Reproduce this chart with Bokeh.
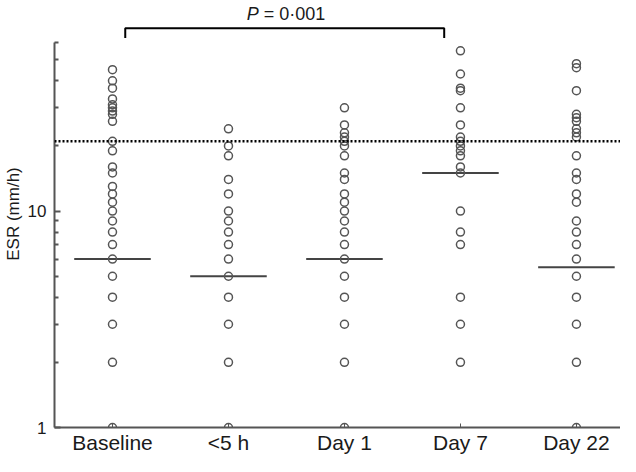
from bokeh.plotting import figure
from bokeh.models import Span, FixedTicker, Range1d, ColumnDataSource, Label, BasicTickFormatter
from bokeh.embed import file_html
from bokeh.resources import INLINE

# ---- data ----
categories = ["Baseline", "<5 h", "Day 1", "Day 7", "Day 22"]
baseline = [45, 40, 37, 33, 31, 30, 29, 28, 26, 21, 19, 16, 15, 13, 12, 11, 10, 9, 8, 7, 6, 5, 4, 3, 2, 1]
lt5h = [24, 20, 18, 14, 12, 10, 9, 8, 7, 6, 5, 4, 3, 2, 1]
day1 = [30, 25, 23, 22, 21, 20, 18, 15, 14, 12, 11, 10, 9, 8, 7, 6, 5, 4, 3, 2, 1]
day7 = [55, 43, 37, 36, 30, 25, 22, 21, 20, 19, 18, 16, 15, 10, 8, 7, 4, 3, 2]
day22 = [48, 46, 36, 28, 27, 26, 24, 23, 22, 18, 15, 14, 12, 11, 9, 8, 7, 6, 5, 4, 3, 2, 1]
medians = [6, 5, 6, 15, 5.5]
reference_line = 21
y_major_ticks = [1, 10]
y_minor_ticks = [2, 3, 4, 5, 6, 7, 8, 9, 20, 30, 40, 50, 60]
y_axis_top = 60
p_value_text = "= 0\u00b7001"

series = [baseline, lt5h, day1, day7, day22]

FONT = "Liberation Sans"
TEXT = "#1a1a1a"
GREY = "#555555"

xs, ys = [], []
for i, vals in enumerate(series):
    xs += [i + 1] * len(vals)
    ys += vals
src = ColumnDataSource(dict(x=xs, y=ys))

p = figure(width=620, height=456,
           x_range=Range1d(0.5, 5.38), y_range=Range1d(1, 94),
           y_axis_type="log", output_backend="svg", toolbar_location=None,
           min_border=0, min_border_left=0, min_border_right=0,
           min_border_top=0, min_border_bottom=0)
p.outline_line_color = None
p.grid.visible = False
p.background_fill_color = "white"

# y axis
ya = p.yaxis[0]
ya.ticker = FixedTicker(ticks=y_major_ticks, minor_ticks=y_minor_ticks)
ya.formatter = BasicTickFormatter()
ya.bounds = (1, y_axis_top)
ya.axis_line_color = GREY
ya.axis_line_width = 2
ya.major_tick_in = 6
ya.major_tick_out = 0
ya.minor_tick_in = 4
ya.minor_tick_out = 0
ya.major_tick_line_color = GREY
ya.minor_tick_line_color = GREY
ya.major_tick_line_width = 2
ya.minor_tick_line_width = 2
ya.major_label_text_font = FONT
ya.major_label_text_font_size = "17px"
ya.major_label_text_color = TEXT
ya.major_label_standoff = 8
ya.axis_label = "ESR (mm/h)"
ya.axis_label_text_font = FONT
ya.axis_label_text_font_size = "17px"
ya.axis_label_text_font_style = "normal"
ya.axis_label_text_color = TEXT
ya.axis_label_standoff = 2

# x axis
xa = p.xaxis[0]
xa.ticker = FixedTicker(ticks=list(range(1, len(categories) + 1)))
xa.major_label_overrides = {i + 1: c for i, c in enumerate(categories)}
xa.axis_line_color = GREY
xa.axis_line_width = 2
xa.major_tick_in = 4
xa.major_tick_out = 0
xa.major_tick_line_color = GREY
xa.minor_tick_line_color = None
xa.major_label_text_font = FONT
xa.major_label_text_font_size = "21px"
xa.major_label_text_color = TEXT
xa.major_label_standoff = 3

# reference dotted line
p.add_layout(Span(location=reference_line, dimension="width", line_color="black",
                  line_width=2.5, line_dash="2 2"))

# medians
half = 0.33
p.segment(x0=[i + 1 - half for i in range(len(medians))], y0=medians,
          x1=[i + 1 + half for i in range(len(medians))], y1=medians,
          line_color="#444444", line_width=2)

# points
p.scatter("x", "y", source=src, marker="circle", size=8, fill_color=None,
          line_color=GREY, line_width=1.5)

# bracket Baseline -> Day 7
bx0, bx1 = 1 + 0.11, 4 - 0.14
p.line([bx0, bx0, bx1, bx1], [63, 70, 70, 63], line_color="black", line_width=2)
p.add_layout(Label(x=2.26, y=81, text="P", text_font=FONT, text_font_size="18px",
                   text_font_style="italic", text_align="right", text_baseline="middle",
                   text_color=TEXT))
p.add_layout(Label(x=2.26, y=81, x_offset=5, text=p_value_text, text_font=FONT,
                   text_font_size="18px", text_align="left", text_baseline="middle",
                   text_color=TEXT))

open("out.html", "w").write(file_html(p, INLINE))
